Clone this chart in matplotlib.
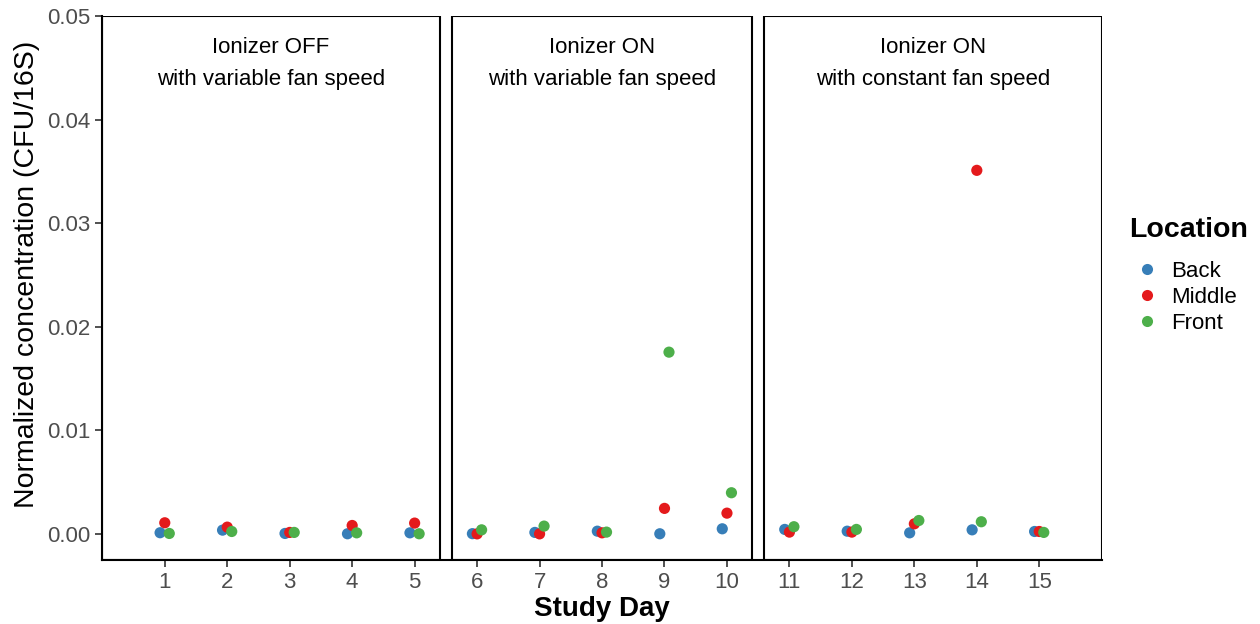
import numpy as np
import matplotlib.pyplot as plt
from matplotlib.patches import Rectangle
from matplotlib.lines import Line2D

plt.rcParams['font.family'] = ['Liberation Sans', 'DejaVu Sans']

days = np.arange(1, 16)
locations = ['Back', 'Middle', 'Front']
colors = {'Back': '#377EB8', 'Middle': '#E41A1C', 'Front': '#4DAF4A'}

# normalized concentration per study day
back = [0.00012, 0.00037, 0.00005, 0.00002, 0.00011,
        0.00003, 0.00015, 0.00027, 0.00002, 0.00050,
        0.00044, 0.00027, 0.00011, 0.00040, 0.00024]
middle = [0.00108, 0.00066, 0.00015, 0.00082, 0.00105,
          0.00001, 0.00001, 0.00011, 0.00247, 0.00201,
          0.00018, 0.00018, 0.00098, 0.03510, 0.00024]
front = [0.00005, 0.00024, 0.00015, 0.00011, 0.00002,
         0.00040, 0.00076, 0.00018, 0.01755, 0.00398,
         0.00070, 0.00044, 0.00130, 0.00118, 0.00015]
values = {'Back': back, 'Middle': middle, 'Front': front}

panels = [(0.0, 5.4, 'Ionizer OFF', 'with variable fan speed'),
          (5.6, 10.4, 'Ionizer ON', 'with variable fan speed'),
          (10.6, 16.0, 'Ionizer ON', 'with constant fan speed')]

fig = plt.figure(figsize=(12.6, 6.24), dpi=100)
ax = fig.add_axes([0.0812, 0.1026, 0.7932, 0.8718])

dodge = {'Back': -0.075, 'Middle': 0.0, 'Front': 0.072}
for loc in locations:
    ax.scatter(days + dodge[loc], values[loc], s=65, color=colors[loc],
               edgecolors='none', zorder=3, label=loc)

ymin, ymax = -0.00251, 0.05
for x0, x1, t1, t2 in panels:
    ax.add_patch(Rectangle((x0, ymin), x1 - x0, ymax - ymin, fill=False,
                           edgecolor='black', lw=1.5, zorder=2))
    xc = (x0 + x1) / 2
    ax.text(xc, 0.0470, t1, ha='center', va='center', fontsize=16)
    ax.text(xc, 0.0439, t2, ha='center', va='center', fontsize=16)

ax.set_xlim(0, 16)
ax.set_ylim(ymin, ymax)
ax.set_xticks(days)
ax.set_yticks([0, 0.01, 0.02, 0.03, 0.04, 0.05])
ax.set_yticklabels(['0.00', '0.01', '0.02', '0.03', '0.04', '0.05'])
ax.tick_params(labelsize=16, labelcolor='#4D4D4D', color='#333333',
               width=1.2, length=5)
for side in ['top', 'right']:
    ax.spines[side].set_visible(False)
for side in ['left', 'bottom']:
    ax.spines[side].set_linewidth(1.5)

ax.set_xlabel('Study Day', fontsize=20, fontweight='bold', labelpad=2)
ax.set_ylabel('Normalized concentration (CFU/16S)', fontsize=20.5)
ax.yaxis.set_label_coords(-0.062, 0.525)

handles = [Line2D([], [], marker='o', ls='none', color=colors[l],
                  markersize=8, markeredgewidth=0) for l in locations]
leg = fig.legend(handles, locations, loc='center left',
                 bbox_to_anchor=(0.889, 0.559), frameon=False, fontsize=16,
                 title='Location', handletextpad=0.3, labelspacing=0.22,
                 borderaxespad=0, handlelength=1.6)
leg.get_title().set_fontsize(20.5)
leg.get_title().set_fontweight('bold')
leg._legend_box.align = 'left'
leg._legend_box.sep = 13

fig.savefig('out.png', dpi=100)
